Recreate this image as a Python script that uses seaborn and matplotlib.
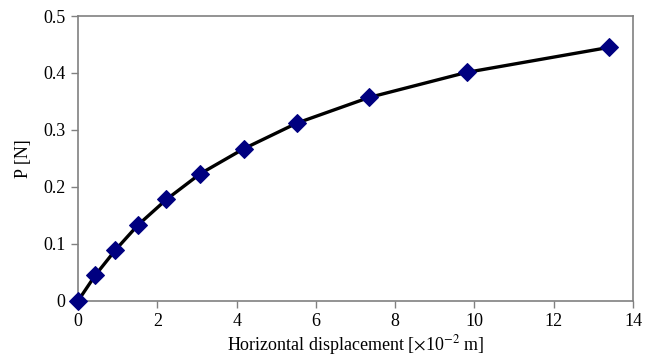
import numpy as np
import pandas as pd
import seaborn as sns
import matplotlib.pyplot as plt

displacement = [0, 0.43, 0.94, 1.51, 2.23, 3.08, 4.18, 5.52, 7.34, 9.8, 13.4]
force = [0, 0.0445, 0.089, 0.133, 0.178, 0.223, 0.267, 0.312, 0.357, 0.401, 0.445]
xticks = [0, 2, 4, 6, 8, 10, 12, 14]
yticks = [0, 0.1, 0.2, 0.3, 0.4, 0.5]
yticklabels = ['0', '0.1', '0.2', '0.3', '0.4', '0.5']

df = pd.DataFrame({'x': displacement, 'P': force})

sns.set_style('white')
plt.rcParams['font.family'] = ['Liberation Serif', 'DejaVu Serif']
plt.rcParams['mathtext.fontset'] = 'stix'

fig = plt.figure(figsize=(6.56, 3.56), dpi=100)
ax = fig.add_axes([0.119, 0.155, 0.846, 0.80])

sns.lineplot(data=df, x='x', y='P', ax=ax, color='black', linewidth=2.4,
             marker='D', markersize=9, markerfacecolor='#000080',
             markeredgecolor='#000080', clip_on=False, zorder=3)

ax.set_xlim(0, 14)
ax.set_ylim(0, 0.5)
ax.set_xticks(xticks)
ax.set_yticks(yticks)
ax.set_yticklabels(yticklabels)
ax.tick_params(axis='both', direction='out', length=5, width=1, color='#808080',
               labelsize=13, labelcolor='black', pad=4, bottom=True, left=True)
for s in ax.spines.values():
    s.set_color('#808080')
    s.set_linewidth(1.2)

ax.set_xlabel(r'Horizontal displacement [$\times$10$^{-2}$ m]', fontsize=13,
              labelpad=2, color='black')
ax.set_ylabel('P [N]', fontsize=13, labelpad=8, color='black')

fig.savefig('out.png', dpi=100)
